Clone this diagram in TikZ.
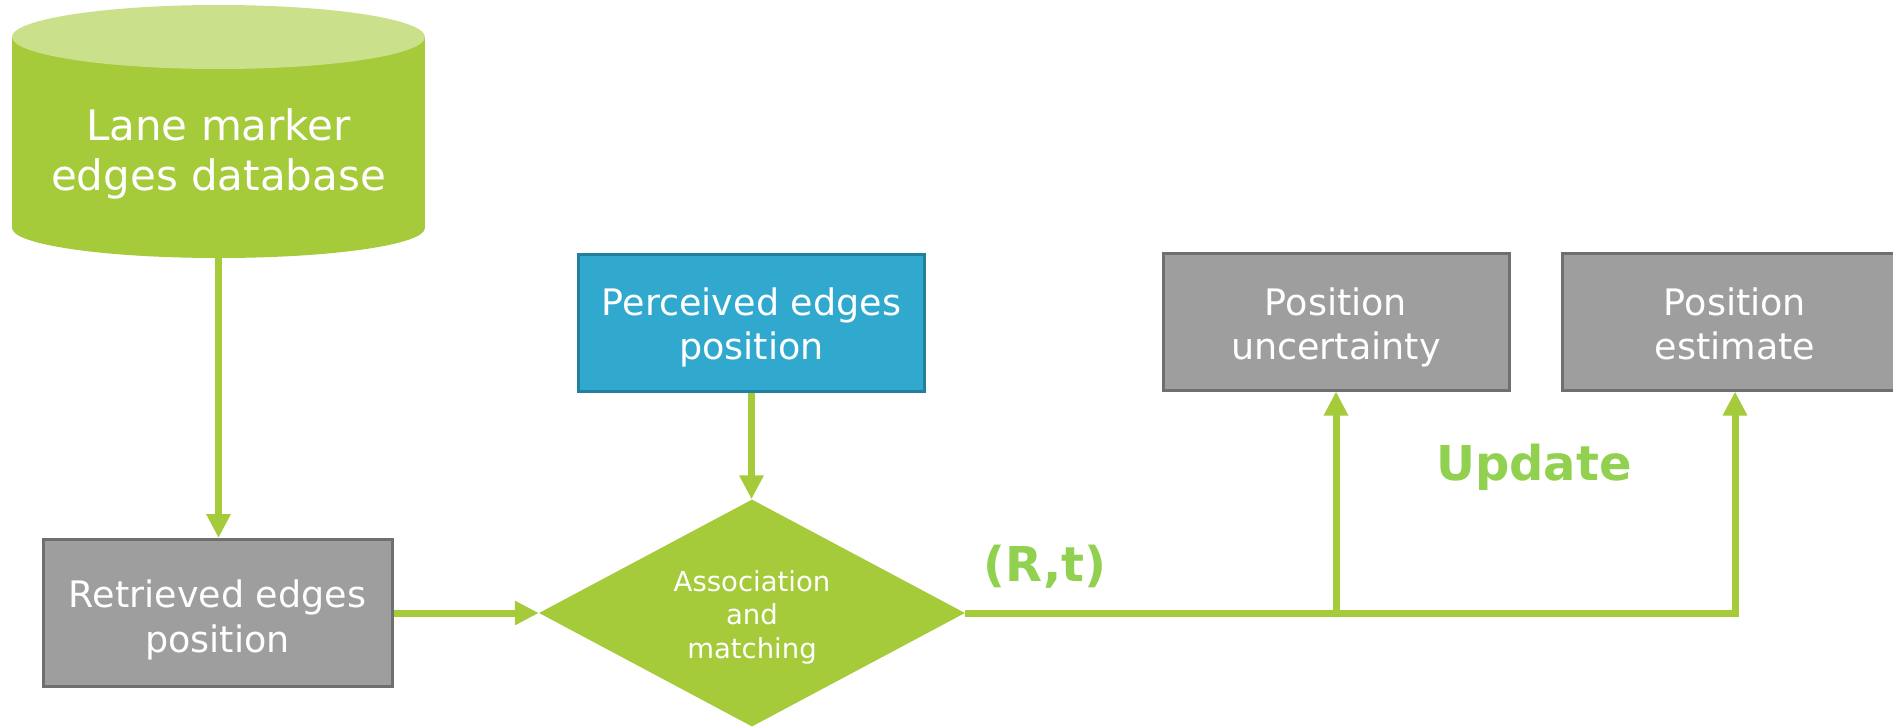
\documentclass[tikz,border=0pt]{standalone}
\usepackage{fontspec}
\setmainfont{DejaVu Sans}
\usetikzlibrary{shapes.geometric,arrows.meta}
\definecolor{lgreen}{HTML}{A5CA3A}
\definecolor{ltop}{HTML}{CBE08B}
\definecolor{lblue}{HTML}{31A9CF}
\definecolor{dblue}{HTML}{22809F}
\definecolor{bgray}{HTML}{9E9E9E}
\definecolor{dgray}{HTML}{6F6F6F}
\definecolor{lab}{HTML}{92D050}
\newcommand{\topstrut}[1]{\rule{0pt}{#1pt}}
\newcommand{\botstrut}[1]{\rule[-#1pt]{0pt}{#1pt}}
\begin{document}
\begin{tikzpicture}[x=1pt,y=-1pt,
  box/.style={rectangle, draw=dgray, line width=3pt, fill=bgray, text=white,
    minimum width=346pt, minimum height=137pt, align=center,
    font=\fontsize{36.5}{44}\selectfont, inner sep=0pt},
  flow/.style={draw=lgreen, line width=7pt, -{Triangle[length=24pt,width=23pt]}},
  lbl/.style={text=lab, font=\bfseries\fontsize{48}{58}\selectfont, anchor=base, inner sep=0pt}]
\useasboundingbox (0,0) rectangle (1893,726);
\clip (0,0) rectangle (1893,726);
% database cylinder
\fill[lgreen] (12,37) rectangle (425,228);
\fill[lgreen] (218.5,228) ellipse [x radius=206.5, y radius=30];
\fill[ltop] (218.5,37) ellipse [x radius=206.5, y radius=32];
\node[rectangle, minimum width=413pt, minimum height=253pt, inner sep=0pt] (db) at (218.5,131.5) {};
\node[text=white, align=center, font=\fontsize{42}{50}\selectfont, inner sep=0pt] (dbtext) at (218.5,153) {\topstrut{36}Lane marker\\edges database\botstrut{12}};
% boxes
\node[box, minimum width=349pt, minimum height=147pt, font=\fontsize{36.5}{45}\selectfont] (ret) at (217.5,613) {\topstrut{45}Retrieved edges\\position\botstrut{12}};
\node[box, draw=dblue, fill=lblue] (per) at (751.5,322.5) {\topstrut{41}Perceived edges\\position\botstrut{12}};
\node[box] (unc) at (1336,321.5) {\topstrut{43}Position\\uncertainty\botstrut{12}};
\node[box] (est) at (1735,321.5) {\topstrut{43}Position\\estimate\botstrut{12}};
% diamond
\node[diamond, fill=lgreen, text=white, minimum width=426pt, minimum height=227pt, aspect=1.877, inner sep=0pt, align=center, font=\fontsize{27.5}{33.5}\selectfont] (diam) at (752,613) {\topstrut{33}Association\\and\\matching\botstrut{10}};
% labels
\node[lbl] (rt) at (1045,581) {(R,t)};
\node[lbl] (upd) at (1534,480) {Update};
% connectors
\draw[flow] (db.south) -- (db.south |- ret.north);
\draw[flow] (ret.east) -- (diam.west);
\draw[flow] (per.south) -- (per.south |- diam.north);
\draw[flow] (diam.east) -| (est.south);
\coordinate (br) at (unc.south |- diam.east);
\draw[flow] (br) -- (unc.south);
\end{tikzpicture}
\end{document}
